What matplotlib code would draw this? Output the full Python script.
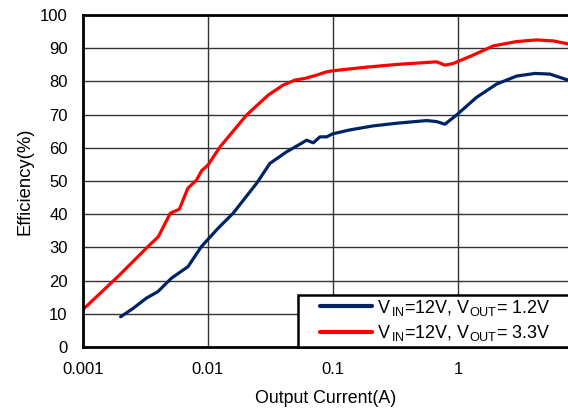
import matplotlib
matplotlib.use("Agg")
import matplotlib.pyplot as plt
from matplotlib.ticker import FixedLocator, NullLocator
from matplotlib.patches import Rectangle

plt.rcParams['font.family'] = ['Liberation Sans', 'DejaVu Sans']
plt.rcParams['mathtext.fontset'] = 'custom'
plt.rcParams['mathtext.rm'] = 'Liberation Sans'

# Output current (A) and efficiency (%)
i_12 = [0.002, 0.00251, 0.00321, 0.00398, 0.00509, 0.00692, 0.00884, 0.0120,
        0.0159, 0.0245, 0.0313, 0.0426, 0.0545, 0.0616, 0.0696, 0.0787, 0.0891,
        0.0995, 0.137, 0.210, 0.323, 0.562, 0.675, 0.787, 0.977, 1.41, 2.04,
        2.95, 4.13, 5.45, 7.6]
eff_12 = [9.1, 11.6, 14.7, 16.7, 20.7, 24.2, 30.2, 35.7,
          40.3, 49.3, 55.3, 58.8, 61.1, 62.3, 61.5, 63.3, 63.3,
          64.2, 65.4, 66.6, 67.4, 68.2, 67.9, 67.1, 69.9, 75.2, 79.2,
          81.6, 82.4, 82.2, 80.4]

i_33 = [0.001, 0.0019, 0.0033, 0.0040, 0.0050, 0.0059, 0.0069, 0.0081, 0.0089,
        0.0100, 0.0125, 0.0204, 0.0304, 0.0400, 0.0497, 0.0597, 0.0741, 0.0891,
        0.100, 0.175, 0.323, 0.675, 0.787, 0.917, 1.32, 1.92, 2.95, 4.26,
        5.79, 7.6]
eff_33 = [11.3, 21.2, 30.2, 33.2, 40.3, 41.5, 47.8, 50.3, 53.1,
          54.8, 60.3, 69.9, 75.9, 78.9, 80.4, 80.9, 81.9, 82.9,
          83.2, 84.2, 85.1, 85.9, 84.9, 85.4, 87.9, 90.7, 92.0, 92.5,
          92.2, 91.3]

x_ticks = [0.001, 0.01, 0.1, 1]
x_tick_labels = ["0.001", "0.01", "0.1", "1"]
y_ticks = list(range(0, 101, 10))

label_12 = r"V$_{\,\mathrm{IN}}$=12V, V$_{\mathrm{OUT}}$= 1.2V"
label_33 = r"V$_{\,\mathrm{IN}}$=12V, V$_{\mathrm{OUT}}$= 3.3V"

W, H = 568, 411
fig = plt.figure(figsize=(W/100, H/100), dpi=100)
ax = fig.add_axes([83/W, 1-347/H, 1-83/W, (347-15)/H])

ax.plot(i_12, eff_12, color='#002366', lw=2.3, label=label_12, solid_capstyle='round')
ax.plot(i_33, eff_33, color='#ff0000', lw=2.3, label=label_33, solid_capstyle='round')

ax.set_xscale('log')
ax.set_xlim(0.001, 7.6)
ax.set_ylim(0, 100)
ax.xaxis.set_major_locator(FixedLocator(x_ticks))
ax.xaxis.set_minor_locator(NullLocator())
ax.set_xticklabels(x_tick_labels)
ax.set_yticks(y_ticks)
ax.tick_params(axis='both', length=0, labelsize=12, colors='black')
ax.tick_params(axis='y', pad=11)
ax.tick_params(axis='x', pad=11)

ax.grid(True, which='major', color='#333333', lw=1.0)
ax.set_axisbelow(True)

for s in ['left', 'bottom', 'top']:
    ax.spines[s].set_linewidth(2.0)
    ax.spines[s].set_color('black')
ax.spines['right'].set_visible(False)

ax.set_ylabel("Efficiency(%)", fontsize=13.3, labelpad=5)
ax.set_xlabel("Output Current(A)", fontsize=12.8, labelpad=9)

# legend frame (extends past the right edge as in the reference)
ax_w = W - 83
frame = Rectangle(((298-83)/ax_w, 0), 0.6, 52/332, transform=ax.transAxes,
                  facecolor='white', edgecolor='black', lw=1.8,
                  clip_on=False, zorder=4)
ax.add_patch(frame)

leg = ax.legend(loc='center left', bbox_to_anchor=((320-83)/ax_w, (347-320.5)/332),
                borderaxespad=0, frameon=False, borderpad=0,
                fontsize=13, handlelength=2.9, handletextpad=0.28,
                labelspacing=0.33)
leg.set_zorder(5)
for line in leg.get_lines():
    line.set_linewidth(3.0)

fig.savefig("out.png", dpi=100)
